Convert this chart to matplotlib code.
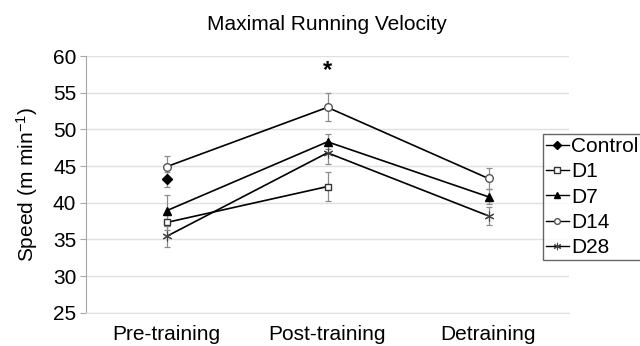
import numpy as np
import matplotlib
matplotlib.use("Agg")
import matplotlib.pyplot as plt

plt.rcParams['font.family'] = ['Liberation Sans', 'DejaVu Sans']
plt.rcParams['mathtext.default'] = 'regular'

# data
phases = ["Pre-training", "Post-training", "Detraining"]
groups = ["Control", "D1", "D7", "D14", "D28"]
control = [43.2, np.nan, np.nan]
control_err = [1.0, np.nan, np.nan]
d1 = [37.3, 42.2, np.nan]
d1_err = [1.0, 2.0, np.nan]
d7 = [38.9, 48.3, 40.8]
d7_err = [2.1, 1.0, 1.0]
d14 = [44.9, 53.0, 43.3]
d14_err = [1.4, 1.9, 1.4]
d28 = [35.4, 46.8, 38.2]
d28_err = [1.4, 1.5, 1.2]
star_y = 58.0  # significance mark above post-training

series = [control, d1, d7, d14, d28]
errors = [control_err, d1_err, d7_err, d14_err, d28_err]
styles = [
    dict(marker='D', mfc='black', mec='black', ms=5.5),
    dict(marker='s', mfc='white', mec='#333333', ms=5),
    dict(marker='^', mfc='black', mec='black', ms=6),
    dict(marker='o', mfc='white', mec='#555555', ms=5.5),
    dict(marker=(6, 2, 0), mfc='#444444', mec='#444444', ms=7, mew=0.8),
]

fig = plt.figure(figsize=(6.4, 3.46), dpi=100)
ax = fig.add_axes([86/640, 1-312.7/346, (569-86)/640, (312.7-56)/346])

x = np.arange(len(phases))
for name, vals, err, st in zip(groups, series, errors, styles):
    ax.errorbar(x, vals, yerr=err, fmt='none', ecolor='#8c8c8c', elinewidth=0.9,
                capsize=2.2, capthick=0.9, zorder=2)
    ax.plot(x, vals, color='black', lw=1.2, label=name, zorder=3, **st)

ax.text(1, star_y, '*', ha='center', va='center', fontsize=17, fontweight='bold')

ax.set_xlim(-0.5, 2.5)
ax.set_ylim(25, 60)
ax.set_yticks(np.arange(25, 61, 5))
ax.set_xticks(x)
ax.set_xticklabels(phases)
ax.tick_params(axis='x', length=0, pad=9, labelsize=15)
ax.tick_params(axis='y', length=4, color='#a6a6a6', labelsize=15, pad=3)
ax.grid(axis='y', color='#e0e0e0', lw=1)
ax.set_axisbelow(True)
for s in ['top', 'right']:
    ax.spines[s].set_visible(False)
ax.spines['left'].set_color('#a6a6a6')
ax.spines['bottom'].set_color('#e0e0e0')

ax.set_ylabel('Speed (m min$^{-1}$)', fontsize=15)
ax.yaxis.set_label_coords(-0.095, 0.5)
fig.text(327/640, 1-25/346, 'Maximal Running Velocity', ha='center', va='center', fontsize=15)

leg = fig.legend(loc='upper left', bbox_to_anchor=(542.7/640, 1-134/346),
                 frameon=True, fancybox=False, fontsize=15, borderaxespad=0,
                 handlelength=1.1, handletextpad=0.1, borderpad=0.15,
                 labelspacing=0.3, markerscale=0.75)
leg.get_frame().set_edgecolor('#404040')
leg.get_frame().set_linewidth(1)
for h in leg.get_lines():
    h.set_linewidth(1.0)

fig.savefig('out.png', dpi=100)
